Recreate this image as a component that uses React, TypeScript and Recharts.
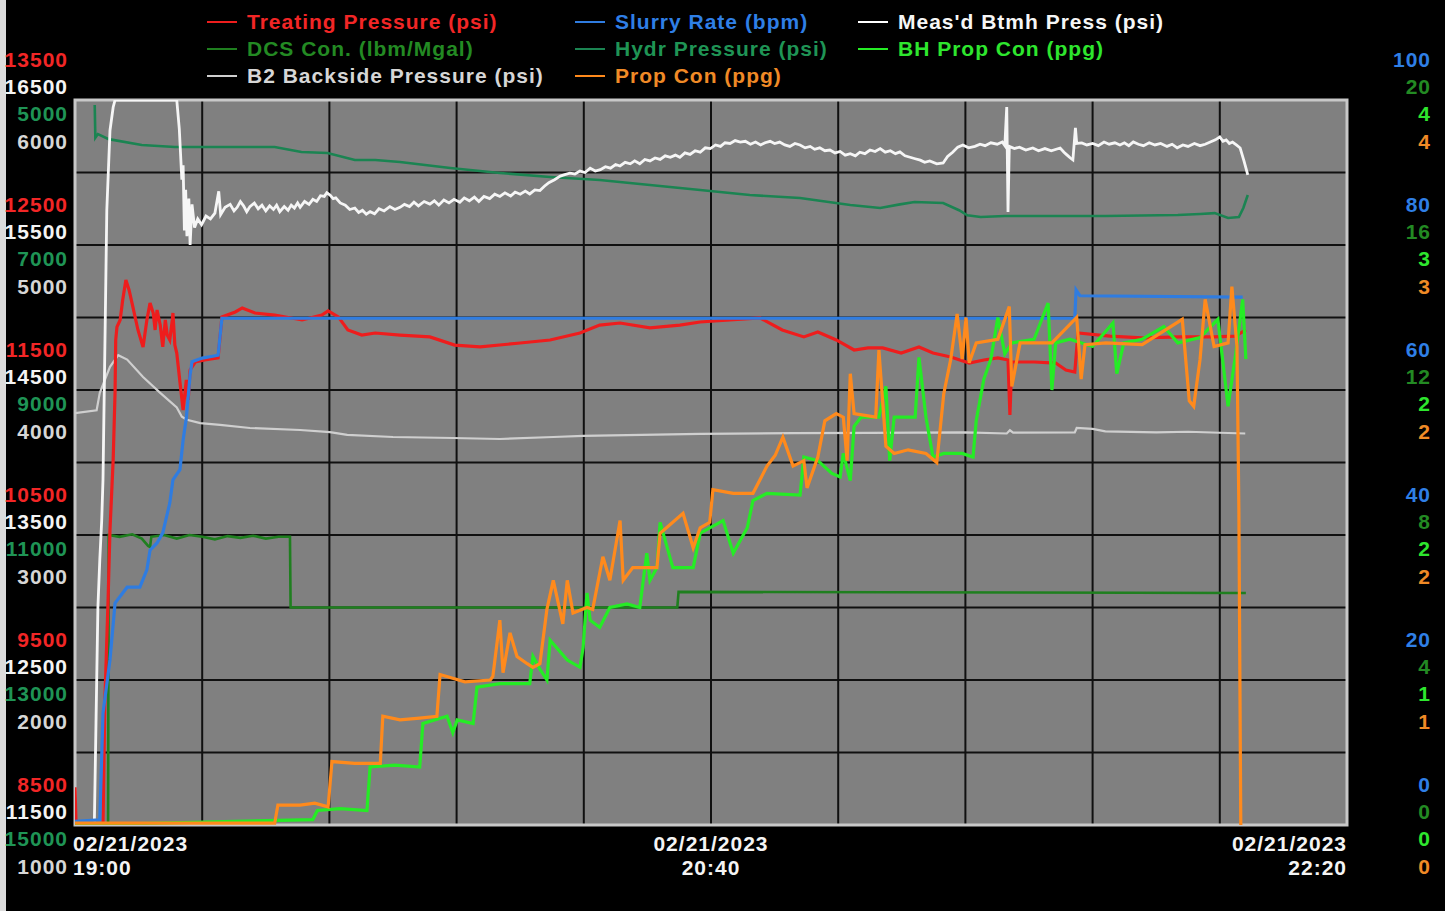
import { LineChart, Line, XAxis, YAxis, CartesianGrid, ReferenceArea } from "recharts";

// Job time axis, minutes after 19:00
const timeTicks = [0, 20, 40, 60, 80, 100, 120, 140, 160, 180, 200];
const timeLabelAt = [0, 100, 200];
const dateLabels = ["02/21/2023", "02/21/2023", "02/21/2023"];
const clockLabels = ["19:00", "20:40", "22:20"];

// left scales, top -> bottom labels per grid group
const treatingLabels = ["13500", "12500", "11500", "10500", "9500", "8500"];
const btmhLabels = ["16500", "15500", "14500", "13500", "12500", "11500"];
const hydrLabels = ["5000", "7000", "9000", "11000", "13000", "15000"];
const backsideLabels = ["6000", "5000", "4000", "3000", "2000", "1000"];

// right scales
const rateLabels = ["100", "80", "60", "40", "20", "0"];
const dcsLabels = ["20", "16", "12", "8", "4", "0"];
const bhPropLabels = ["4", "3", "2", "2", "1", "0"];
const propLabels = ["4", "3", "2", "2", "1", "0"];

// grid rows (10 divisions) on the treating pressure / rate scales
const treatingGrid = [8500, 9000, 9500, 10000, 10500, 11000, 11500, 12000, 12500, 13000, 13500];
const rateGrid = [0, 10, 20, 30, 40, 50, 60, 70, 80, 90, 100];

// [minutes, value]
const treatingPressure: [number, number][] = [
  [0, 8760], [0.3, 8300], [4.4, 8300], [4.4, 8500], [4.7, 9362], [5.2, 10052], [5.5, 10534], [6.0, 11017],
  [6.3, 11486], [6.4, 11845], [6.6, 11935], [7.1, 11983], [7.5, 12121], [8.0, 12259], [8.5, 12190],
  [9.1, 12073], [9.9, 11914], [10.7, 11797], [11.3, 11983], [11.8, 12100], [12.3, 12031], [12.6, 11914],
  [12.9, 12052], [13.4, 11948], [13.8, 11797], [14.2, 11983], [14.5, 11879], [14.9, 11845], [15.3, 11983],
  [15.4, 12031], [15.7, 11810], [16.0, 11755], [16.5, 11555], [17.0, 11362], [17.5, 11569], [17.8, 11431],
  [18.1, 11638], [18.9, 11693], [20.4, 11707], [22.5, 11721], [23.1, 12004], [25.2, 12038], [26.3, 12066],
  [28.3, 12031], [31.4, 12017], [35.7, 11983], [38.8, 12017], [39.8, 12045], [41.4, 12004], [42.9, 11914],
  [45.1, 11879], [47.2, 11893], [51.1, 11879], [55.8, 11866], [59.7, 11810], [63.7, 11797], [70.0, 11824],
  [74.7, 11845], [79.4, 11893], [82.5, 11948], [85.7, 11962], [90.4, 11928], [95.1, 11948], [98.3, 11969],
  [103.0, 11983], [107.7, 11997], [111.2, 11914], [114.6, 11866], [116.8, 11900], [119.7, 11845],
  [122.5, 11776], [124.7, 11790], [127.0, 11790], [129.9, 11755], [132.7, 11797], [134.9, 11755],
  [137.7, 11728], [140.6, 11686], [142.9, 11707], [145.1, 11721], [146.7, 11707], [147.0, 11328],
  [147.3, 11693], [150.8, 11693], [154.2, 11686], [155.8, 11638], [157.2, 11624], [157.7, 11893],
  [162.7, 11872], [167.8, 11859], [173.7, 11866], [179.1, 11866], [182.4, 11872], [184.1, 11914],
];

const btmhPressure: [number, number][] = [
  [3.0, 11400], [3.3, 12200], [3.6, 13000], [3.9, 13330], [4.2, 13600], [4.4, 13880], [4.7, 14800],
  [5.0, 15740], [5.5, 16290], [6.0, 16450], [6.3, 16500], [16.0, 16500], [16.4, 16300], [16.8, 15950],
  [17.0, 16050], [17.2, 15600], [17.4, 15880], [17.6, 15560], [17.9, 15820], [18.1, 15500], [18.4, 15780],
  [18.8, 15620], [19.3, 15680], [19.9, 15640], [20.6, 15700], [21.3, 15680], [22.0, 15720], [22.6, 15870],
  [22.9, 15710], [23.6, 15760], [24.4, 15780], [25.0, 15735], [25.5, 15760], [26.0, 15800], [26.5, 15770],
  [27.0, 15730], [27.5, 15765], [28.2, 15790], [28.8, 15750], [29.4, 15775], [30.0, 15735], [30.6, 15770],
  [31.2, 15745], [31.7, 15775], [32.2, 15730], [32.9, 15765], [33.5, 15740], [34.0, 15775], [34.5, 15755],
  [35.0, 15790], [35.4, 15760], [36.1, 15800], [36.8, 15780], [37.4, 15815], [38.0, 15800], [38.6, 15840],
  [39.2, 15835], [39.6, 15860], [40.1, 15845], [40.6, 15820], [41.0, 15825], [41.7, 15790], [42.5, 15775],
  [43.2, 15745], [44.0, 15755], [44.6, 15725], [45.2, 15740], [45.8, 15712], [46.4, 15730], [47.1, 15715],
  [47.8, 15750], [48.6, 15735], [49.5, 15765], [50.3, 15745], [51.1, 15760], [51.8, 15780], [52.6, 15765],
  [53.3, 15795], [54.0, 15770], [54.9, 15800], [55.8, 15782], [56.5, 15805], [57.2, 15775], [58.0, 15810],
  [58.8, 15790], [59.6, 15815], [60.5, 15795], [61.2, 15825], [62.0, 15805], [62.8, 15830], [63.5, 15800],
  [64.3, 15835], [65.2, 15820], [66.0, 15850], [66.8, 15835], [67.6, 15860], [68.5, 15838], [69.2, 15865],
  [70.0, 15850], [70.8, 15872], [71.5, 15852], [72.3, 15880], [73.1, 15875], [73.8, 15905], [74.5, 15930],
  [75.4, 15950], [76.3, 15975], [77.0, 15985], [77.8, 15995], [78.6, 15990], [79.4, 16010], [80.2, 16000],
  [81.0, 16030], [81.8, 16010], [82.6, 16020], [83.4, 16040], [84.2, 16030], [85.0, 16055], [85.7, 16045],
  [86.5, 16070], [87.3, 16060], [88.0, 16080], [88.8, 16060], [89.6, 16090], [90.4, 16080], [91.2, 16100],
  [92.0, 16090], [92.8, 16115], [93.6, 16105], [94.4, 16120], [95.1, 16105], [95.9, 16135], [96.7, 16125],
  [97.5, 16150], [98.3, 16140], [99.1, 16170], [99.9, 16165], [100.7, 16190], [101.5, 16180],
  [102.2, 16205], [103.0, 16200], [103.8, 16220], [104.6, 16210], [105.4, 16215], [106.2, 16195],
  [107.0, 16210], [107.8, 16190], [108.5, 16205], [109.3, 16215], [110.0, 16200], [110.8, 16210],
  [111.6, 16190], [112.4, 16180], [113.2, 16200], [114.0, 16190], [114.8, 16170], [115.6, 16180],
  [116.3, 16160], [117.1, 16170], [117.9, 16150], [118.7, 16155], [119.5, 16135], [120.3, 16145],
  [121.1, 16120], [121.9, 16130], [122.7, 16115], [123.4, 16140], [124.2, 16130], [125.0, 16155],
  [125.8, 16145], [126.6, 16165], [127.4, 16140], [128.2, 16150], [129.0, 16130], [129.7, 16142],
  [130.5, 16115], [131.3, 16105], [132.1, 16095], [132.9, 16085], [133.6, 16070], [134.4, 16080],
  [135.5, 16060], [136.5, 16066], [137.2, 16110], [138.0, 16140], [138.8, 16175], [139.6, 16190],
  [140.5, 16170], [141.5, 16180], [142.3, 16195], [143.1, 16185], [144.0, 16205], [145.0, 16195],
  [145.8, 16210], [146.2, 16185], [146.5, 16452], [146.7, 15728], [146.9, 16180], [147.7, 16165],
  [148.5, 16175], [149.5, 16155], [150.6, 16169], [151.5, 16150], [152.5, 16165], [153.5, 16150],
  [154.9, 16169], [155.5, 16140], [156.0, 16120], [156.5, 16100], [156.9, 16087], [157.3, 16307],
  [157.5, 16200], [158.3, 16204], [159.1, 16190], [160.0, 16200], [160.9, 16185], [161.8, 16210],
  [162.6, 16195], [163.5, 16205], [164.3, 16190], [165.0, 16205], [165.7, 16185], [166.4, 16211],
  [167.2, 16195], [168.0, 16185], [168.9, 16205], [169.8, 16190], [170.7, 16200], [171.7, 16180],
  [172.5, 16195], [173.3, 16170], [174.2, 16190], [175.0, 16180], [176.0, 16200], [176.9, 16185],
  [177.7, 16195], [178.5, 16210], [179.3, 16225], [180.0, 16245], [180.5, 16215], [181.0, 16225],
  [181.5, 16200], [182.0, 16210], [182.6, 16190], [183.2, 16169], [183.8, 16080], [184.4, 15983],
];

const hydrPressure: [number, number][] = [
  [3.1, 5070], [3.2, 5520], [3.6, 5470], [5.3, 5540], [10.5, 5621], [15.7, 5648], [31.4, 5648],
  [35.6, 5717], [39.7, 5731], [44.0, 5828], [47.2, 5828], [51.1, 5855], [59.0, 5938], [66.8, 6007],
  [74.7, 6062], [82.5, 6103], [90.4, 6172], [98.3, 6241], [106.1, 6310], [114.0, 6352], [121.9, 6448],
  [126.6, 6490], [129.7, 6440], [132.0, 6407], [136.5, 6421], [139.0, 6520], [140.3, 6590],
  [142.4, 6614], [146.2, 6600], [162.0, 6600], [173.4, 6586], [176.9, 6572], [179.2, 6560],
  [181.3, 6628], [183.0, 6614], [183.7, 6490], [184.4, 6310],
];

const backsidePressure: [number, number][] = [
  [0, 3840], [3.4, 3860], [3.9, 3980], [5.5, 4160], [6.8, 4240], [8.2, 4210], [10.7, 4090],
  [13.4, 3980], [16.0, 3880], [16.8, 3815], [17.6, 3795], [19.7, 3772], [22.8, 3760], [27.5, 3738],
  [35.4, 3724], [40.1, 3710], [42.8, 3690], [50.0, 3676], [59.4, 3669], [66.8, 3662], [75.2, 3676],
  [79.9, 3683], [98.3, 3697], [112.9, 3703], [125.0, 3705], [140.0, 3708], [146.5, 3700], [147.0, 3722],
  [147.5, 3706], [157.2, 3708], [157.5, 3738], [160.0, 3732], [162.0, 3715], [170.0, 3708],
  [175.0, 3712], [180.0, 3705], [184.0, 3700],
];

const slurryRate: [number, number][] = [
  [0, 0.5], [3.9, 0.7], [4.4, 15.4], [5.5, 22.8], [6.3, 30.6], [7.5, 32.0], [8.2, 32.8], [10.2, 32.8],
  [11.3, 35.2], [11.8, 37.9], [12.9, 38.9], [13.8, 40.3], [14.9, 44.4], [15.4, 47.6], [16.5, 49.0],
  [17.0, 53.1], [17.5, 56.1], [18.1, 62.1], [18.4, 63.9], [20.0, 64.4], [22.5, 64.8], [23.1, 69.9],
  [157.2, 69.9], [157.4, 73.8], [158.0, 73.0], [183.6, 72.8],
];

const dcsCon: [number, number][] = [
  [0, 0], [5.2, 0], [5.3, 8.0], [7, 7.95], [9, 8.02], [10.5, 7.9], [11.5, 7.7], [11.8, 7.67],
  [12, 7.95], [14, 8.0], [16, 7.9], [18, 8.0], [20, 7.95], [22, 7.88], [24, 7.97], [26, 7.92],
  [28, 7.98], [30, 7.9], [32, 7.95], [33.8, 7.95], [33.9, 6.0], [94.7, 6.0], [94.9, 6.43], [184.1, 6.4],
];

const bhPropCon: [number, number][] = [
  [0, 0], [37.4, 0.03], [38.1, 0.08], [41.7, 0.09], [45.9, 0.08], [46.4, 0.32], [50.3, 0.33],
  [54.2, 0.32], [54.7, 0.56], [58.5, 0.6], [59.4, 0.51], [60.1, 0.58], [62.6, 0.56], [63.2, 0.76],
  [66.8, 0.78], [71.5, 0.78], [72.0, 0.93], [73.1, 0.86], [74.2, 0.8], [74.7, 1.02], [77.4, 0.91],
  [79.4, 0.87], [79.9, 0.98], [80.5, 1.28], [81.0, 1.13], [82.5, 1.09], [84.1, 1.2], [86.8, 1.22],
  [88.8, 1.2], [89.9, 1.5], [90.4, 1.35], [91.5, 1.42], [92.0, 1.67], [94.0, 1.42], [97.2, 1.42],
  [98.3, 1.61], [101.9, 1.68], [103.5, 1.5], [105.7, 1.64], [106.6, 1.79], [108.8, 1.83], [114.0, 1.82],
  [114.6, 2.03], [116.8, 2.01], [119.0, 1.94], [120.3, 1.92], [120.8, 2.05], [121.9, 1.9], [122.5, 2.2],
  [123.6, 2.25], [126.4, 2.25], [127.5, 2.42], [128.1, 2.01], [128.8, 2.25], [132.1, 2.25], [132.7, 2.58],
  [133.8, 2.25], [134.9, 2.03], [136.6, 2.05], [139.5, 2.05], [141.2, 2.03], [141.7, 2.23], [142.9, 2.46],
  [144.0, 2.57], [145.1, 2.8], [146.2, 2.6], [147.3, 2.66], [150.8, 2.68], [153.0, 2.88], [153.6, 2.4],
  [154.2, 2.66], [156.4, 2.68], [160.0, 2.64], [163.2, 2.77], [163.8, 2.49], [164.9, 2.66], [167.8, 2.68],
  [171.2, 2.75], [173.4, 2.66], [176.9, 2.69], [179.7, 2.79], [181.3, 2.31], [182.5, 2.6], [183.6, 2.9],
  [184.1, 2.57],
];

const propCon: [number, number][] = [
  [0, 0.01], [31.4, 0.01], [31.9, 0.11], [35.4, 0.11], [37.7, 0.12], [39.8, 0.1], [40.4, 0.35],
  [44.0, 0.34], [48.0, 0.34], [48.4, 0.6], [51.1, 0.58], [54.2, 0.59], [56.9, 0.6], [57.4, 0.83],
  [61.3, 0.79], [65.3, 0.8], [65.7, 0.82], [66.8, 1.13], [67.3, 0.84], [68.4, 1.06], [69.5, 0.93],
  [71.1, 0.89], [72.0, 0.87], [73.1, 0.89], [74.2, 1.19], [75.2, 1.35], [76.7, 1.11], [77.4, 1.35],
  [78.3, 1.17], [80.5, 1.2], [81.4, 1.19], [83.0, 1.48], [84.1, 1.35], [85.7, 1.68], [86.2, 1.35],
  [87.7, 1.42], [91.5, 1.42], [92.0, 1.61], [95.6, 1.72], [97.2, 1.53], [98.3, 1.64], [99.8, 1.67],
  [100.3, 1.85], [103.5, 1.83], [106.6, 1.83], [108.8, 1.98], [110.1, 2.04], [111.3, 2.14], [112.9, 1.98],
  [114.6, 2.01], [115.1, 1.86], [116.8, 2.03], [117.9, 2.23], [119.7, 2.27], [120.8, 2.25], [121.4, 2.01],
  [121.9, 2.49], [122.5, 2.27], [125.9, 2.25], [126.4, 2.62], [127.5, 2.09], [128.8, 2.05], [131.0, 2.07],
  [133.8, 2.05], [135.5, 2.0], [136.6, 2.38], [137.7, 2.57], [138.7, 2.82], [139.5, 2.57], [140.1, 2.8],
  [140.6, 2.55], [141.7, 2.66], [145.1, 2.68], [146.9, 2.86], [147.3, 2.42], [148.6, 2.66], [153.6, 2.66],
  [157.5, 2.8], [158.2, 2.46], [158.8, 2.65], [162.1, 2.66], [167.8, 2.65], [174.1, 2.79], [175.2, 2.34],
  [175.9, 2.31], [176.9, 2.57], [177.7, 2.9], [179.1, 2.64], [181.3, 2.66], [181.9, 2.97], [182.7, 2.64],
  [183.0, 1.74], [183.3, 0],
];

const toPoints = (s: [number, number][]) => s.map(([t, v]) => ({ t, v }));

const C = {
  treating: "#ee1d1d",
  btmh: "#f6f6f6",
  hydr: "#1b8452",
  backside: "#cfcfcf",
  rate: "#2f7ce0",
  dcs: "#1f7f1f",
  bhProp: "#25ec25",
  prop: "#ff8a1c",
};

const FONT = '"Liberation Sans", Arial, sans-serif';
const textStyle = { fontFamily: FONT, fontSize: 21, fontWeight: 700, letterSpacing: 1 };

const labelOffsets = [-41, -14, 13, 41];
const LEFT_LABEL_X = 68; // right edge of the stacked left labels
const RIGHT_LABEL_X = 1431;

const leftRows = [
  { labels: treatingLabels, color: "#f22626" },
  { labels: btmhLabels, color: "#f4f4f4" },
  { labels: hydrLabels, color: "#1f9455" },
  { labels: backsideLabels, color: "#d6d6d6" },
];

const rightRows = [
  { labels: rateLabels, color: "#2f7fe6" },
  { labels: dcsLabels, color: "#238a23" },
  { labels: bhPropLabels, color: "#2ee62e" },
  { labels: propLabels, color: "#f08a26" },
];

function LeftTick({ y, payload }: any) {
  const group = (13500 - payload.value) / 1000;
  if (!Number.isInteger(group)) return <g />;
  return (
    <g>
      {leftRows.map((row, i) => (
        <text key={i} x={LEFT_LABEL_X} y={y + labelOffsets[i]} textAnchor="end" dominantBaseline="central" fill={row.color} style={textStyle}>
          {row.labels[group]}
        </text>
      ))}
    </g>
  );
}

function RightTick({ y, payload }: any) {
  const group = (100 - payload.value) / 20;
  if (!Number.isInteger(group)) return <g />;
  return (
    <g>
      {rightRows.map((row, i) => (
        <text key={i} x={RIGHT_LABEL_X} y={y + labelOffsets[i]} textAnchor="end" dominantBaseline="central" fill={row.color} style={textStyle}>
          {row.labels[group]}
        </text>
      ))}
    </g>
  );
}

function TimeTick({ x, y, payload }: any) {
  const i = timeLabelAt.indexOf(payload.value);
  if (i < 0) return <g />;
  const anchor = i === 0 ? "start" : i === 2 ? "end" : "middle";
  const tx = i === 0 ? x - 2 : x;
  return (
    <g>
      <text x={tx} y={y + 18} textAnchor={anchor} dominantBaseline="central" fill="#f4f4f4" style={textStyle}>
        {dateLabels[i]}
      </text>
      <text x={tx} y={y + 42} textAnchor={anchor} dominantBaseline="central" fill="#f4f4f4" style={textStyle}>
        {clockLabels[i]}
      </text>
    </g>
  );
}

const legendItems = [
  { name: "Treating Pressure (psi)", color: C.treating, text: "#f22626", col: 0, row: 0 },
  { name: "DCS Con. (lbm/Mgal)", color: C.dcs, text: "#238a23", col: 0, row: 1 },
  { name: "B2 Backside Pressure (psi)", color: C.backside, text: "#d6d6d6", col: 0, row: 2 },
  { name: "Slurry Rate (bpm)", color: C.rate, text: "#2f7fe6", col: 1, row: 0 },
  { name: "Hydr Pressure (psi)", color: C.hydr, text: "#1f9455", col: 1, row: 1 },
  { name: "Prop Con (ppg)", color: C.prop, text: "#f08a26", col: 1, row: 2 },
  { name: "Meas'd Btmh Press (psi)", color: "#ffffff", text: "#f6f6f6", col: 2, row: 0 },
  { name: "BH Prop Con (ppg)", color: C.bhProp, text: "#2ee62e", col: 2, row: 1 },
];
const legendCols = [207, 575, 858];
const legendRows = [22, 49, 76];

function Legend() {
  return (
    <>
      {legendItems.map((it) => (
        <div
          key={it.name}
          style={{
            position: "absolute",
            left: legendCols[it.col],
            top: legendRows[it.row] - 14,
            height: 28,
            display: "flex",
            alignItems: "center",
            whiteSpace: "nowrap",
          }}
        >
          <span style={{ display: "inline-block", width: 30, height: 2, background: it.color, marginRight: 10 }} />
          <span style={{ ...textStyle, color: it.text }}>{it.name}</span>
        </div>
      ))}
    </>
  );
}

export default function App() {
  return (
    <div style={{ position: "absolute", left: 0, top: 0, width: 1445, height: 911, background: "#000" }}>
      <div style={{ position: "absolute", left: 0, top: 0, width: 6, height: 911, background: "#dcdcdc" }} />
      <div style={{ position: "absolute", left: 0, top: 0 }}>
        <LineChart width={1445} height={911} margin={{ top: 100, right: 0, bottom: 0, left: 0 }}>
          <CartesianGrid yAxisId="tp" stroke="#101010" strokeWidth={2} fill="#808080" fillOpacity={1} />
          <XAxis
            dataKey="t"
            type="number"
            domain={[0, 200]}
            ticks={timeTicks}
            interval={0}
            height={86}
            tickSize={0}
            tickMargin={0}
            axisLine={false}
            allowDataOverflow
            tick={<TimeTick />}
          />
          <YAxis
            yAxisId="tp"
            orientation="left"
            width={75}
            domain={[8500, 13500]}
            ticks={treatingGrid}
            interval={0}
            tickSize={0}
            tickMargin={0}
            axisLine={false}
            allowDataOverflow
            tick={<LeftTick />}
          />
          <YAxis
            yAxisId="rate"
            orientation="right"
            width={98}
            domain={[0, 100]}
            ticks={rateGrid}
            interval={0}
            tickSize={0}
            tickMargin={0}
            axisLine={false}
            allowDataOverflow
            tick={<RightTick />}
          />
          <YAxis yAxisId="btmh" hide domain={[11500, 16500]} allowDataOverflow />
          <YAxis yAxisId="hydr" hide reversed domain={[5000, 15000]} allowDataOverflow />
          <YAxis yAxisId="b2" hide domain={[1000, 6000]} allowDataOverflow />
          <YAxis yAxisId="dcs" hide domain={[0, 20]} allowDataOverflow />
          <YAxis yAxisId="bh" hide domain={[0, 4]} allowDataOverflow />
          <YAxis yAxisId="prop" hide domain={[0, 4]} allowDataOverflow />
          <ReferenceArea
            yAxisId="tp"
            x1={0}
            x2={200}
            y1={8500}
            y2={13500}
            fill="none"
            stroke="#c8c8c8"
            strokeWidth={3}
            ifOverflow="visible"
          />
          <Line yAxisId="b2" data={toPoints(backsidePressure)} dataKey="v" stroke={C.backside} strokeWidth={2.2} dot={false} isAnimationActive={false} />
          <Line yAxisId="dcs" data={toPoints(dcsCon)} dataKey="v" stroke={C.dcs} strokeWidth={2.6} dot={false} isAnimationActive={false} />
          <Line yAxisId="hydr" data={toPoints(hydrPressure)} dataKey="v" stroke={C.hydr} strokeWidth={2.6} dot={false} isAnimationActive={false} />
          <Line yAxisId="btmh" data={toPoints(btmhPressure)} dataKey="v" stroke={C.btmh} strokeWidth={2.8} dot={false} isAnimationActive={false} />
          <Line yAxisId="tp" data={toPoints(treatingPressure)} dataKey="v" stroke={C.treating} strokeWidth={3.2} dot={false} isAnimationActive={false} />
          <Line yAxisId="rate" data={toPoints(slurryRate)} dataKey="v" stroke={C.rate} strokeWidth={3.2} dot={false} isAnimationActive={false} />
          <Line yAxisId="bh" data={toPoints(bhPropCon)} dataKey="v" stroke={C.bhProp} strokeWidth={3.2} dot={false} isAnimationActive={false} />
          <Line yAxisId="prop" data={toPoints(propCon)} dataKey="v" stroke={C.prop} strokeWidth={3.2} dot={false} isAnimationActive={false} />
        </LineChart>
      </div>
      <Legend />
    </div>
  );
}
